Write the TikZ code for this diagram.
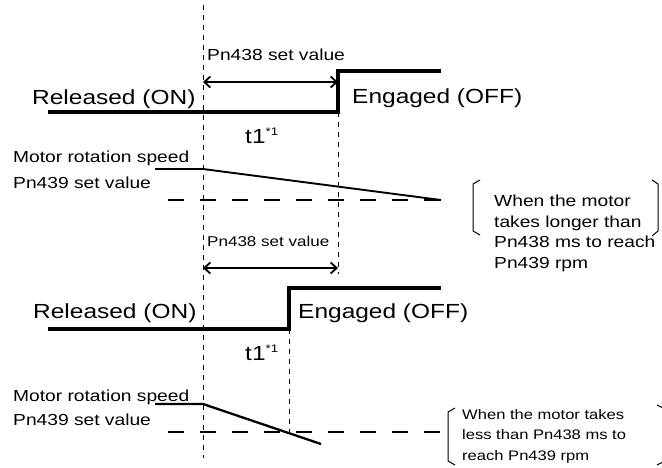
\documentclass[tikz,border=0pt]{standalone}
\usepackage{fontspec}
\setmainfont{Liberation Sans}[FakeStretch=1.2]
\usetikzlibrary{arrows.meta,positioning}

\begin{document}
\begin{tikzpicture}[
    x=1pt, y=-1pt,
    signal/.style={line width=3.4pt},
    speed/.style={line width=1.9pt},
    level/.style={line width=2.6pt, dash pattern=on 16pt off 16pt},
    guide/.style={line width=0.9pt, dash pattern=on 5pt off 5pt},
    span/.style={{Straight Barb[length=6pt,width=11pt]}-{Straight Barb[length=6pt,width=11pt]}, line width=1.8pt},
    bracket/.style={line width=1pt},
    bigtxt/.style={anchor=base west, inner sep=0pt, font=\fontsize{20.4}{24}\selectfont},
    midtxt/.style={anchor=base west, inner sep=0pt, font=\fontsize{16}{19}\selectfont},
    smalltxt/.style={anchor=base west, inner sep=0pt, font=\fontsize{14.2}{17}\selectfont},
    notetxt/.style={anchor=base west, inner sep=0pt, align=left}
]
\useasboundingbox (0,0) rectangle (662,467);

% vertical guide lines
\coordinate (gtop) at (203,5);
\coordinate (gbot) at (203,458);
\coordinate (gA) at (338,112);
\coordinate (gAend) at (338,274);
\coordinate (gB) at (289,329);
\coordinate (gBend) at (289,433);
\draw[guide] (gtop) -- (gbot);
\draw[guide] (gA) -- (gAend);
\draw[guide] (gB) -- (gBend);

% first case: brake signal
\coordinate (relA) at (48,112);
\coordinate (stepA) at (338,112);
\coordinate (stepAtop) at (338,71);
\coordinate (engA) at (441,71);
\draw[signal] (relA) -- (stepA) -- (stepAtop) -- (engA);
\node[bigtxt] (releasedA) at (32,104) {Released (ON)};
\node[bigtxt] (engagedA) at (352,103) {Engaged (OFF)};
\node[midtxt] (setA) at (207,60) {Pn438 set value};
\coordinate (spanAl) at (203,82);
\coordinate (spanAr) at (338,82);
\draw[span] (spanAl) -- (spanAr);
\node[bigtxt] (tA) at (245,143) {t1\textsuperscript{\fontsize{11}{13}\selectfont *1}};

% first case: motor speed
\node[midtxt] (motorA) at (13,162) {Motor rotation speed};
\node[midtxt] (pnA) at (13,188) {Pn439 set value};
\coordinate (spdA0) at (155,169);
\coordinate (spdA1) at (203,169);
\coordinate (spdA2) at (441,200);
\draw[speed] (spdA0) -- (spdA1) -- (spdA2);
\coordinate (lvlA0) at (168,200);
\coordinate (lvlA1) at (441,200);
\draw[level] (lvlA0) -- (lvlA1);

% first case: note (base = last line)
\draw[bracket] (480,180) -- (473,184) -- (473,231) -- (480,235);
\draw[bracket] (652,180) -- (658,184) -- (658,231) -- (652,236);
\node[notetxt, font=\fontsize{16}{20.4}\selectfont] (noteA) at (494,268)
    {When the motor\\takes longer than\\Pn438 ms to reach\\Pn439 rpm};

% second case: brake signal
\coordinate (relB) at (48,329);
\coordinate (stepB) at (289,329);
\coordinate (stepBtop) at (289,288);
\coordinate (engB) at (441,288);
\draw[signal] (relB) -- (stepB) -- (stepBtop) -- (engB);
\node[bigtxt] (releasedB) at (33,318) {Released (ON)};
\node[bigtxt] (engagedB) at (298,318) {Engaged (OFF)};
\node[smalltxt] (setB) at (207,246) {Pn438 set value};
\coordinate (spanBl) at (203,268);
\coordinate (spanBr) at (338,268);
\draw[span] (spanBl) -- (spanBr);
\node[bigtxt] (tB) at (245,360) {t1\textsuperscript{\fontsize{11}{13}\selectfont *1}};

% second case: motor speed
\node[midtxt] (motorB) at (13,401) {Motor rotation speed};
\node[midtxt] (pnB) at (13,425) {Pn439 set value};
\coordinate (spdB0) at (155,404);
\coordinate (spdB1) at (203,404);
\coordinate (spdB2) at (321,444);
\draw[speed, line width=2.3pt] (spdB0) -- (spdB1) -- (spdB2);
\coordinate (lvlB0) at (168,432);
\coordinate (lvlB1) at (441,432);
\draw[level, line width=2.3pt] (lvlB0) -- (lvlB1);

% second case: note (base = last line)
\draw[bracket] (455,408) -- (448,412) -- (448,461) -- (455,465);
\draw[bracket] (657,405) -- (663,408) -- (663,462) -- (657,465);
\node[notetxt, font=\fontsize{13.8}{20.5}\selectfont] (noteB) at (462,460)
    {When the motor takes\\less than Pn438 ms to\\reach Pn439 rpm};

\end{tikzpicture}
\end{document}
